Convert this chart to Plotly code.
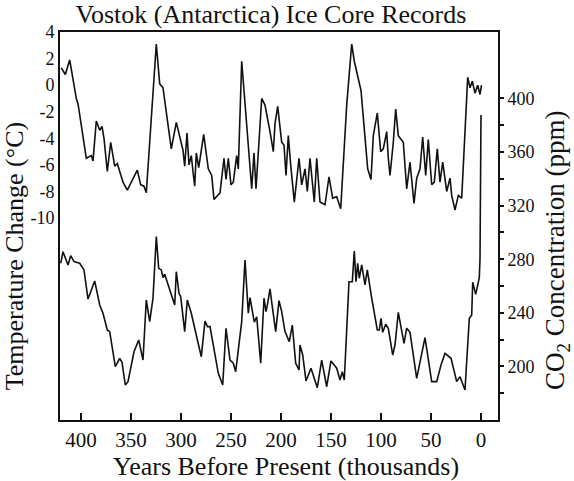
import plotly.graph_objects as go

# Vostok ice core records
temp_years = [419.7, 415.7, 411.3, 404.7, 403, 394.7, 389.7, 388, 384.7, 381.3,
              379, 377, 373.7, 370.3, 366.3, 363.7, 358, 353.7, 343.7, 340.3,
              337, 334.7, 324.7, 321.3, 318, 309.7, 304.7, 301.3, 298, 296.3,
              294, 292, 289.7, 288, 286.3, 284.7, 282.3, 277.3, 272.7, 269.3,
              267, 261, 257, 255, 252.7, 250, 247.7, 244.3, 242.7, 239.3,
              234.3, 229.3, 227, 225, 219.3, 216, 211, 207.7, 206, 203.3,
              199.3, 197, 195, 192.7, 190.3, 186.7, 182, 179.3, 176, 173.7,
              171, 166.7, 164.3, 161, 156, 152, 148.3, 144.3, 140.3, 134.3,
              129.3, 126.7, 120, 113.3, 110, 107.7, 103.7, 100.3, 97.7, 94.3,
              92.7, 91, 87.7, 85.3, 82.7, 77.7, 74.3, 71, 67, 64.3,
              61, 58.3, 55.3, 52.7, 49.3, 46.7, 43.7, 41, 38.3, 34.3,
              31, 29.3, 26, 22.7, 19.3, 17.7, 13.3, 11, 8.7, 6,
              3.3, 1, -0.5]
temp_values = [1.3, 0.8, 1.9, -1.0, -1.4, -5.5, -5.3, -5.7, -2.7, -3.4,
               -3.1, -4.0, -6.5, -4.3, -6.1, -5.9, -7.3, -7.9, -6.4, -7.5,
               -7.6, -8.1, 3.1, 0.1, -0.2, -4.8, -2.8, -3.8, -4.9, -6.1,
               -3.6, -6.0, -5.3, -6.5, -7.6, -5.1, -6.2, -3.7, -6.3, -6.8,
               -8.6, -8.1, -5.5, -7.1, -5.5, -7.5, -7.3, -5.3, -6.3, 1.8,
               -3.0, -7.8, -5.1, -7.8, -1.0, -1.5, -3.5, -5.0, -2.9, -1.6,
               -4.3, -4.5, -6.8, -3.8, -6.0, -8.8, -5.5, -7.5, -6.3, -8.0,
               -5.5, -8.8, -5.5, -8.8, -9.0, -6.9, -8.5, -8.4, -9.3, -1.5,
               3.1, 1.8, -0.4, -6.3, -7.1, -3.8, -2.1, -5.0, -4.8, -3.5,
               -5.5, -6.8, -4.3, -1.8, -3.8, -4.3, -7.8, -5.8, -8.9, -7.0,
               -6.3, -3.9, -6.8, -4.1, -7.5, -7.3, -4.8, -7.3, -5.8, -8.0,
               -7.0, -8.3, -9.4, -8.3, -8.5, -5.8, 0.6, -0.2, 0.3, -0.6,
               0.0, -0.7, 0.0]

co2_years = [420.3, 418, 413, 410.3, 407, 401.3, 397, 393, 386.3, 381.3,
             378, 373.7, 371.3, 365.7, 361.3, 359, 355.7, 353, 347, 342.3,
             338, 334.7, 331.3, 328, 324.7, 322.3, 319.7, 318, 316.3, 306.3,
             304.7, 302, 300.3, 296.3, 293.7, 289.7, 286.3, 279.7, 276, 273.5,
             271, 262.7, 258.3, 255, 251, 247.7, 245.3, 239.3, 236, 232.7,
             231, 226.7, 224.3, 220.3, 217, 215, 213.3, 211, 208.7, 205.3,
             202, 199.3, 196, 191.7, 188.7, 185.3, 182, 181, 178.3, 175,
             170, 163.7, 159.3, 154.3, 150, 144.3, 141, 138.7, 136.7, 132,
             128.7, 126.7, 125, 123.3, 121.7, 119.3, 116, 113.7, 109.3, 103.7,
             101.7, 100, 98.3, 95.3, 92.7, 88.3, 86, 82.7, 77, 74.3,
             71, 64.3, 56, 49.3, 44.3, 40, 36, 30, 24.3, 21,
             16, 11.7, 9.3, 8.3, 5.3, 1.7, 1.0, 0]
co2_values = [277.0, 285.6, 275.7, 282.6, 278.2, 277.0, 272.0, 250.3, 263.8, 245.9,
              239.7, 227.2, 226.0, 199.9, 206.1, 203.1, 186.2, 188.7, 211.0, 219.8,
              204.8, 249.6, 233.4, 250.9, 296.8, 273.2, 272.0, 266.2, 268.8, 245.9,
              270.7, 254.6, 252.1, 226.0, 249.6, 239.7, 228.5, 207.3, 233.9, 229.7,
              229.7, 194.9, 186.2, 228.5, 204.8, 202.4, 196.1, 233.4, 279.4, 239.7,
              251.3, 233.0, 237.1, 202.4, 250.9, 240.9, 247.1, 257.8, 244.6, 226.0,
              249.1, 240.9, 226.0, 218.5, 230.9, 202.4, 197.4, 216.0, 208.6, 189.2,
              198.7, 184.2, 204.8, 184.9, 204.1, 198.7, 189.9, 196.1, 189.9, 263.2,
              263.2, 286.1, 263.2, 277.0, 265.8, 275.7, 260.8, 272.0, 250.9, 227.2,
              227.2, 235.9, 225.5, 231.5, 228.5, 208.6, 216.0, 240.4, 217.3, 228.5,
              225.5, 191.2, 221.5, 188.7, 188.7, 201.1, 209.8, 206.1, 188.7, 192.4,
              182.5, 235.9, 238.4, 262.8, 253.8, 266.2, 280.0, 387.5]

year_ticks = [400, 350, 300, 250, 200, 150, 100, 50, 0]
temp_ticks = [4, 2, 0, -2, -4, -6, -8, -10]
temp_labels = ["4", "2", "0", "-2", "-4", "-6", "-8", "-10"]
co2_ticks = [200, 240, 280, 320, 360, 400]
co2_minor_ticks = [180, 220, 260, 300, 340, 380]

serif = "Liberation Serif, Times New Roman, serif"
ink = "#111111"

fig = go.Figure()
fig.add_trace(go.Scatter(x=temp_years, y=temp_values, mode="lines",
                         line=dict(color=ink, width=1.6), yaxis="y"))
fig.add_trace(go.Scatter(x=co2_years, y=co2_values, mode="lines",
                         line=dict(color=ink, width=1.6), yaxis="y2"))

fig.update_layout(
    width=574, height=481,
    margin=dict(l=60, r=76, t=32, b=61),
    plot_bgcolor="white", paper_bgcolor="white",
    showlegend=False,
    font=dict(family=serif, color=ink),
    title=dict(text="Vostok (Antarctica) Ice Core Records", xref="container", yref="container",
               x=0.472, y=0.971, xanchor="center", yanchor="middle",
               font=dict(family=serif, size=26, color=ink)),
    xaxis=dict(range=[421, -17], tickvals=year_ticks, ticks="inside", ticklen=7, tickwidth=1.5,
               tickcolor=ink, showline=True, linewidth=2, linecolor=ink, mirror=True,
               showgrid=False, zeroline=False, tickfont=dict(size=21), ticklabelstandoff=0),
    yaxis=dict(range=[-25.2, 4], tickvals=temp_ticks, ticktext=temp_labels, ticks="",
               showline=True, linewidth=2, linecolor=ink, showgrid=False, zeroline=False,
               tickfont=dict(size=18)),
    yaxis2=dict(range=[160.1, 449.4], tickvals=co2_ticks, overlaying="y",
                side="right", ticks="outside", ticklen=4, tickwidth=1.5, tickcolor=ink,
                minor=dict(tickvals=co2_minor_ticks, ticks="outside", ticklen=4, tickwidth=1.5,
                           tickcolor=ink, showgrid=False),
                showline=True, linewidth=2, linecolor=ink, showgrid=False, zeroline=False,
                tickfont=dict(size=18)),
)

fig.add_annotation(text="Years Before Present (thousands)", xref="paper", yref="paper",
                   x=0.516, y=-0.1186, xanchor="center", yanchor="middle", showarrow=False,
                   font=dict(family=serif, size=26, color=ink))
fig.add_annotation(text="Temperature Change (°C)", xref="paper", yref="paper",
                   x=-0.104, y=0.423, xanchor="center", yanchor="middle", showarrow=False,
                   textangle=-90, font=dict(family=serif, size=26, color=ink))
fig.add_annotation(text="CO<sub>2</sub> Concentration (ppm)", xref="paper", yref="paper",
                   x=1.135, y=0.436, xanchor="center", yanchor="middle", showarrow=False,
                   textangle=-90, font=dict(family=serif, size=27, color=ink))

# the page body has an 8px default margin; drop it so the figure sits at the window corner
fig.write_html("out.html", config={"displayModeBar": False},
               post_script="document.body.style.margin='0';")
